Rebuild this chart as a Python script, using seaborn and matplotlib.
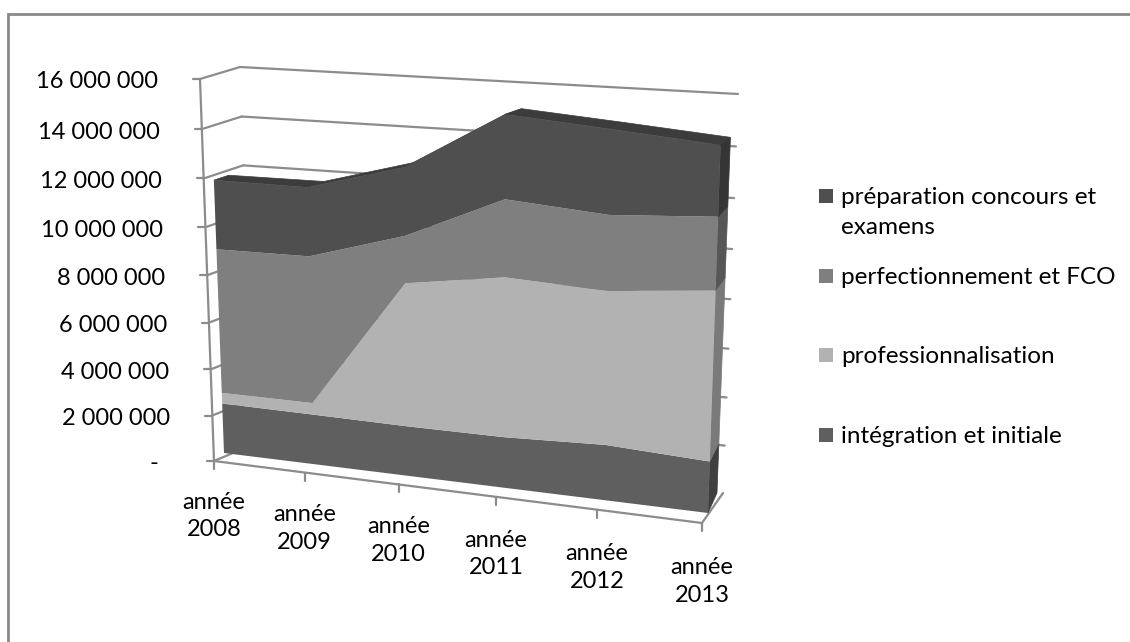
import numpy as np
import pandas as pd
import matplotlib
matplotlib.use("Agg")
import matplotlib.pyplot as plt
from matplotlib.transforms import Transform
import seaborn as sns

# values
years = ["année\n2008", "année\n2009", "année\n2010", "année\n2011", "année\n2012", "année\n2013"]
integration = [2.20e6, 2.17e6, 2.13e6, 2.14e6, 2.30e6, 2.11e6]
professionnalisation = [0.47e6, 0.50e6, 5.99e6, 6.57e6, 6.22e6, 6.78e6]
perfectionnement = [6.19e6, 6.22e6, 1.93e6, 3.10e6, 2.97e6, 2.83e6]
preparation = [2.89e6, 2.84e6, 2.75e6, 3.30e6, 3.28e6, 2.69e6]
y_ticks = [0, 2e6, 4e6, 6e6, 8e6, 10e6, 12e6, 14e6, 16e6]
y_labels = ["-", "2 000 000", "4 000 000", "6 000 000", "8 000 000",
            "10 000 000", "12 000 000", "14 000 000", "16 000 000"]
series_names = ["intégration et initiale", "professionnalisation",
                "perfectionnement et FCO", "préparation concours et\nexamens"]

front_cols = ["#5f5f5f", "#b2b2b2", "#7f7f7f", "#4f4f4f"]
side_cols = ["#3f3f3f", "#7a7a7a", "#565656", "#353535"]
roof_col = "#3c3c3c"
line_col = "#8c8c8c"

sns.set_theme(style="white")
plt.rcParams["font.family"] = ["Lato", "DejaVu Sans"]


class Perspective(Transform):
    """maps (category index, value) to picture pixels through four corners"""
    input_dims = 2
    output_dims = 2

    def __init__(self, lb, rb, lt, rt):
        super().__init__()
        src = [(0, 0), (5, 0), (0, 16e6), (5, 16e6)]
        dst = [lb, rb, lt, rt]
        a, b = [], []
        for (u, v), (x, y) in zip(src, dst):
            v = v / 16e6
            a.append([u, v, 1, 0, 0, 0, -u * x, -v * x])
            b.append(x)
            a.append([0, 0, 0, u, v, 1, -u * y, -v * y])
            b.append(y)
        self.h = np.append(np.linalg.solve(np.array(a, float), np.array(b, float)), 1).reshape(3, 3)

    def transform_non_affine(self, values):
        values = np.asarray(values, float)
        p = np.column_stack([values[:, 0], values[:, 1] / 16e6, np.ones(len(values))]) @ self.h.T
        return p[:, :2] / p[:, 2:]


# planes of the fake 3d box: axis plane, front and back of the area, back wall
axis_plane = Perspective((214, 461), (702, 523), (200, 79), (717, 106))
area_front = Perspective((224, 453), (708, 513), (210, 76), (722, 102))
area_back = Perspective((236, 447), (717, 493), (226, 72), (732, 96))
back_wall = Perspective((252, 445), (723, 493), (240, 67), (738, 94))

fig = plt.figure(figsize=(11.3, 6.42), dpi=100)
ax = fig.add_axes([0, 0, 1, 1])

idx = np.arange(len(years))
df = pd.DataFrame({"integration": integration, "professionnalisation": professionnalisation,
                   "perfectionnement": perfectionnement, "preparation": preparation})
cum = df.cumsum(axis=1).to_numpy()


def pts(plane, i, v):
    return plane.transform_non_affine(np.column_stack([np.broadcast_to(i, np.shape(v)), v]))


def seg(p, q, lw=1.6):
    sns.lineplot(x=[p[0], q[0]], y=[p[1], q[1]], ax=ax, color=line_col, lw=lw, sort=False,
                 estimator=None, legend=False, solid_capstyle="round", zorder=1)


# outer frame, only top and left are in the crop
ax.plot([8, 8, 1130], [642, 14, 14], color="#8a8a8a", lw=2, zorder=0, solid_joinstyle="miter")

# back wall grid + side wall + y axis
for v, lab in zip(y_ticks, y_labels):
    w = pts(back_wall, np.array([0, 5]), np.array([v, v]))
    if v > 0:
        seg(w[0], w[1])
    a = pts(axis_plane, 0, np.array([v]))[0]
    seg(a, w[0])
    seg((a[0] - 7, a[1]), a)
    right = a[0] - 42 if v > 0 else 158
    ax.text(right, a[1] + 3, lab, ha="right", va="center", fontsize=17, color="black")

seg(pts(axis_plane, 0, np.array([0.]))[0], pts(axis_plane, 0, np.array([16e6]))[0])

# floor
floor_a = pts(axis_plane, 0, np.array([0.]))[0]
floor_b = pts(axis_plane, 5, np.array([0.]))[0]
floor_c = pts(back_wall, 5, np.array([0.]))[0]
seg(floor_a, floor_b)
seg(floor_b, floor_c)
for i, lab in enumerate(years):
    t = pts(axis_plane, i, np.array([0.]))[0]
    seg(t, (t[0], t[1] + 8))
    ax.text(t[0], t[1] + 55 + i * 0.7, lab, ha="center", va="center", fontsize=17, color="black",
            linespacing=1.4)

# roof of the top layer, then right side faces
for i in idx[:-1]:
    f = pts(area_front, idx[i:i + 2], cum[i:i + 2, 3])
    b = pts(area_back, idx[i:i + 2], cum[i:i + 2, 3])
    poly = np.vstack([f, b[::-1]])
    ax.fill(poly[:, 0], poly[:, 1], color=roof_col, lw=0.5, zorder=2)
bottoms = np.column_stack([np.zeros(len(idx)), cum])
for k in range(4):
    vals = np.array([bottoms[5, k], cum[5, k]])
    f = pts(area_front, 5, vals)
    b = pts(area_back, 5, vals)
    poly = np.vstack([f, b[::-1]])
    ax.fill(poly[:, 0], poly[:, 1], color=side_cols[k], lw=0.5, zorder=2)

# the stacked front face
ax.stackplot(idx, integration, professionnalisation, perfectionnement, preparation,
             colors=sns.color_palette(front_cols), edgecolor="none", lw=0, zorder=3,
             transform=area_front + ax.transData)

# legend placed by hand, the gaps are uneven in the original
leg_y = [435, 355, 276, 196]
for name, col, ly in zip(series_names, front_cols, leg_y):
    ax.scatter([826], [ly], marker="s", s=108, color=col, linewidths=0, zorder=4)
    ax.text(841, ly - 9, name, ha="left", va="top", fontsize=17.5, color="black", linespacing=1.5)

ax.set_xlim(0, 1130)
ax.set_ylim(642, 0)
ax.axis("off")

fig.savefig("out.png", dpi=100)
